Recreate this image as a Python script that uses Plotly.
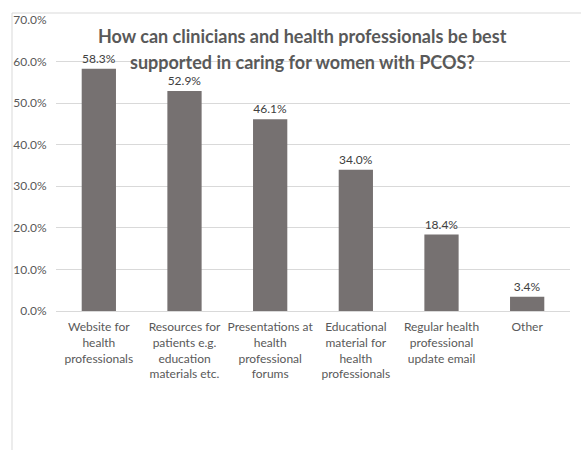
import plotly.graph_objects as go

categories = [
    "Website for<br>health<br>professionals",
    "Resources for<br>patients e.g.<br>education<br>materials etc.",
    "Presentations at<br>health<br>professional<br>forums",
    "Educational<br>material for<br>health<br>professionals",
    "Regular health<br>professional<br>update email",
    "Other",
]
values = [58.3, 52.9, 46.1, 34.0, 18.4, 3.4]
tick_vals = [0, 10, 20, 30, 40, 50, 60, 70]
tick_text = [f"{v:.1f}%" for v in tick_vals]
title_lines = [
    "How can clinicians and health professionals be best",
    "supported in caring for women with PCOS?",
]

FONT = "Lato, Carlito, Calibri, sans-serif"
TXT = "#595959"

fig = go.Figure()
fig.add_trace(go.Bar(
    x=list(range(len(categories))),
    y=values,
    marker=dict(color="#767171", line=dict(width=0)),
    width=0.4,
    text=[f"{v:.1f}%" for v in values],
    textposition="outside",
    textfont=dict(family=FONT, size=12, color="#404040"),
    cliponaxis=False,
))

W, H = 581, 450
L, R, T, B = 56, 11, 20, 139
pw, ph = W - L - R, H - T - B

def px_x(x):
    return (x - L) / pw

def px_y(y):
    return 1 - (y - T) / ph

fig.update_layout(
    width=W, height=H,
    margin=dict(l=L, r=R, t=T, b=B),
    paper_bgcolor="white", plot_bgcolor="white",
    showlegend=False,
    font=dict(family=FONT, color=TXT, size=12),
    xaxis=dict(
        tickmode="array", tickvals=list(range(len(categories))), ticktext=categories,
        range=[-0.5, len(categories) - 0.5],
        showgrid=False, showline=True, linecolor="#d9d9d9", linewidth=1,
        ticks="", tickfont=dict(family=FONT, size=12, color=TXT),
        tickangle=0, ticklabelstandoff=5,
    ),
    yaxis=dict(
        range=[0, 70], tickvals=tick_vals, ticktext=tick_text,
        showgrid=True, gridcolor="#d9d9d9", gridwidth=1,
        zeroline=False, showline=False,
        ticks="outside", ticklen=6, tickcolor="rgba(0,0,0,0)",
        tickfont=dict(family=FONT, size=12, color=TXT),
    ),
    bargap=0.6,
)

# title lines
for i, (line, ypx) in enumerate(zip(title_lines, [36, 62])):
    fig.add_annotation(
        text=f"<b>{line}</b>", xref="paper", yref="paper",
        x=px_x(302), y=px_y(ypx), xanchor="center", yanchor="middle",
        showarrow=False, font=dict(family=FONT, size=18, color=TXT),
    )

# chart-area border (cropped)
fig.add_shape(type="line", xref="paper", yref="paper",
              x0=px_x(12), x1=px_x(590), y0=px_y(13), y1=px_y(13),
              line=dict(color="#d9d9d9", width=1))
fig.add_shape(type="line", xref="paper", yref="paper",
              x0=px_x(12), x1=px_x(12), y0=px_y(13), y1=px_y(460),
              line=dict(color="#d9d9d9", width=1))

fig.write_html("out.html")
